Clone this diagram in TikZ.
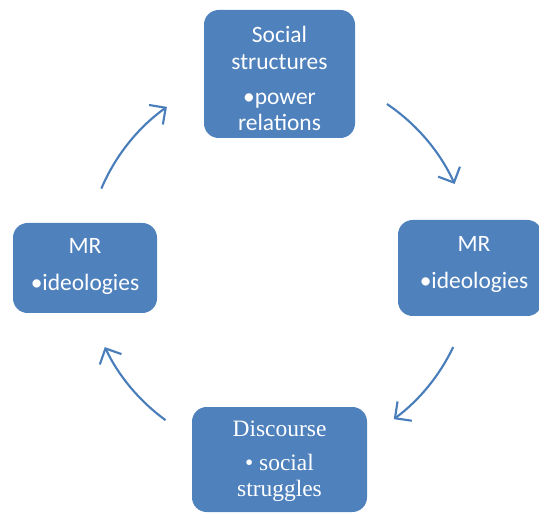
\documentclass[tikz,border=0pt]{standalone}
\usepackage{fontspec}
\setmainfont{Carlito}
\newfontfamily\serifbox{Liberation Serif}
\usetikzlibrary{arrows.meta,calc}
\definecolor{boxblue}{HTML}{4F81BD}
\definecolor{arrowblue}{HTML}{4A7EBB}
\tikzset{
  cyclebox/.style={fill=boxblue, draw=none, rounded corners=11pt, inner sep=0pt},
  boxtext/.style={text=white, align=center, font=\fontsize{17.6}{20.2}\selectfont, inner sep=0pt},
  cyclearrow/.style={draw=arrowblue, line width=1.6pt,
    -{Straight Barb[length=9pt,width=18pt,line width=1.6pt]}}
}
\begin{document}
\begin{tikzpicture}[x=0.75pt,y=-0.75pt]
\useasboundingbox (0,0) rectangle (539,513);
% boxes
\node[cyclebox, minimum width=151*0.75pt, minimum height=128*0.75pt] (top) at (279.5,74) {};
\node[boxtext] (toptext) at (279.5,78.5)
  {Social\\structures\\[6pt]\textbullet power\\relations};
\node[cyclebox, minimum width=144*0.75pt, minimum height=96*0.75pt] (right) at (470,268) {};
\node[boxtext] (righttext) at (474,264.5) {MR\\[7pt]\textbullet ideologies};
\node[cyclebox, minimum width=144*0.75pt, minimum height=90*0.75pt] (left) at (85,268) {};
\node[boxtext] (lefttext) at (85,266.5) {MR\\[7pt]\textbullet ideologies};
\node[cyclebox, minimum width=175*0.75pt, minimum height=105*0.75pt] (bottom) at (279.5,459.5) {};
\node[boxtext, font=\serifbox\fontsize{17.6}{19.5}\selectfont] (bottomtext) at (279.5,461.5)
  {Discourse\\[6pt]\textbullet\ social\\struggles};
% arrows on a circle
\coordinate (c) at (279,264);
\coordinate (a1) at ($(c)+(-56:193)$);
\coordinate (a2) at ($(c)+(25.5:193)$);
\coordinate (a3) at ($(c)+(126:193)$);
\coordinate (a4) at ($(c)+(203:193)$);
\draw[cyclearrow] (a1) arc[start angle=-56, end angle=-24.5, radius=193];
\draw[cyclearrow] (a2) arc[start angle=25.5, end angle=53.5, radius=193];
\draw[cyclearrow] (a3) arc[start angle=126, end angle=154.5, radius=193];
\draw[cyclearrow] (a4) arc[start angle=203, end angle=234.5, radius=193];
\end{tikzpicture}
\end{document}
